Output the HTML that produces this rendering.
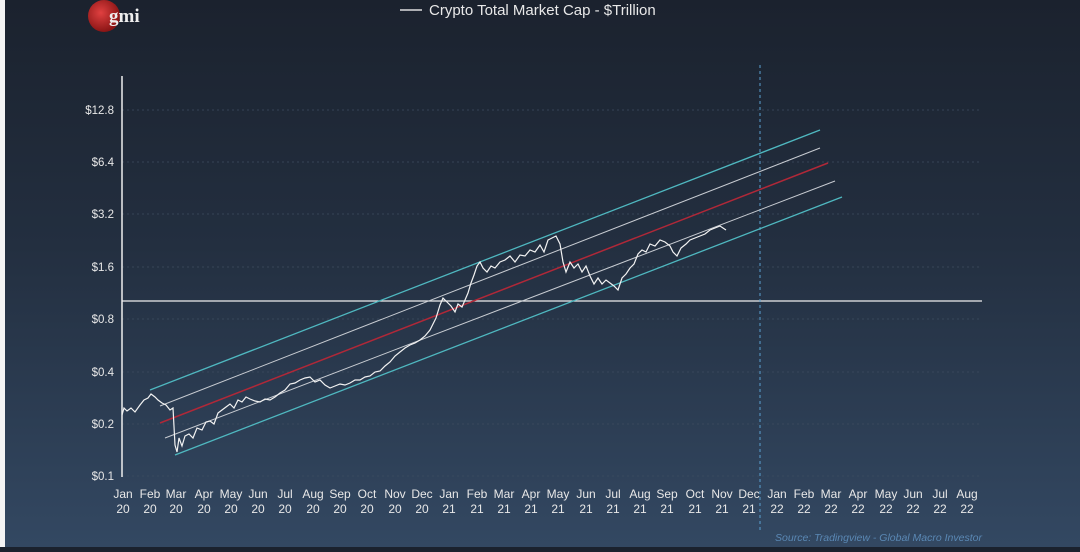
<!DOCTYPE html>
<html><head><meta charset="utf-8"><style>
html,body{margin:0;padding:0;}
body{width:1080px;height:547px;overflow:hidden;background:linear-gradient(180deg,#1b222e 0%,#232f40 45%,#334862 100%);font-family:"Liberation Sans",sans-serif;}
</style></head><body>
<svg width="1080" height="547" viewBox="0 0 1080 547" xmlns="http://www.w3.org/2000/svg">
<defs><radialGradient id="g" cx="40%" cy="40%" r="60%"><stop offset="0" stop-color="#e04040"/><stop offset="1" stop-color="#8a1515"/></radialGradient></defs>
<rect x="0" y="0" width="5" height="547" fill="#f4f4f4"/>
<circle cx="104" cy="16" r="16" fill="url(#g)"/>
<text x="109" y="22" font-family="Liberation Serif,serif" font-size="19" font-weight="bold" fill="#eee">gmi</text>
<line x1="400" y1="10" x2="422" y2="10" stroke="#ddd" stroke-width="1.5"/>
<text x="429" y="15" font-size="15" fill="#e8e8e8">Crypto Total Market Cap - $Trillion</text>
<g stroke="#3e4c60" stroke-dasharray="2,3" stroke-width="0.7">
<line x1="122" y1="110" x2="982" y2="110"/><line x1="122" y1="162" x2="982" y2="162"/><line x1="122" y1="214" x2="982" y2="214"/><line x1="122" y1="267" x2="982" y2="267"/><line x1="122" y1="319" x2="982" y2="319"/><line x1="122" y1="372" x2="982" y2="372"/><line x1="122" y1="424" x2="982" y2="424"/><line x1="122" y1="476" x2="982" y2="476"/>
</g>
<line x1="122" y1="76" x2="122" y2="477" stroke="#eee" stroke-width="1.5"/>
<g font-size="11.5" fill="#e8e8e8" text-anchor="end">
<text x="114" y="114">$12.8</text><text x="114" y="166">$6.4</text><text x="114" y="218">$3.2</text><text x="114" y="271">$1.6</text><text x="114" y="323">$0.8</text><text x="114" y="376">$0.4</text><text x="114" y="428">$0.2</text><text x="114" y="480">$0.1</text>
</g>
<line x1="122" y1="301" x2="982" y2="301" stroke="#eee" stroke-width="1.3"/>
<line x1="760" y1="65" x2="760" y2="532" stroke="#5aa0d0" stroke-width="1" stroke-dasharray="3,3"/>
<line x1="150" y1="390" x2="820" y2="130" stroke="#4fb8c0" stroke-width="1.3"/>
<line x1="160" y1="406" x2="820" y2="148" stroke="#c8ccd2" stroke-width="1"/>
<line x1="160" y1="423" x2="828" y2="163" stroke="#b02838" stroke-width="1.5"/>
<line x1="165" y1="438" x2="835" y2="181" stroke="#c8ccd2" stroke-width="1"/>
<line x1="175" y1="455" x2="842" y2="197" stroke="#4fb8c0" stroke-width="1.3"/>
<polyline fill="none" stroke="#f2f2f2" stroke-width="1.2" points="122,415 124,408 127,411 131,408 135,412 140,405 144,400 148,398 151,394 155,397 158,400 162,403 166,405 170,410 173,408 175,445 177,452 179,438 182,446 185,436 189,434 193,438 197,428 202,430 206,422 210,421 214,424 218,413 222,410 226,407 230,404 234,408 238,400 242,402 246,397 250,399 255,401 260,402 265,399 270,400 275,397 280,393 285,390 290,384 295,383 300,380 305,378 310,377 315,382 320,380 325,385 330,388 335,386 340,384 345,385 350,383 355,380 360,380 365,377 370,376 375,372 380,371 385,366 390,362 395,356 400,352 405,348 410,345 415,343 420,340 425,336 430,330 433,324 436,318 440,305 443,298 447,302 451,306 455,312 458,304 462,307 465,300 468,293 471,283 474,275 477,266 480,262 483,268 487,272 491,266 495,268 500,262 505,260 510,256 515,262 520,255 525,256 530,250 535,252 540,245 544,252 548,240 552,238 556,236 560,244 563,262 566,272 570,262 574,268 578,264 582,272 586,266 590,276 594,284 598,278 602,284 606,280 610,283 614,286 618,290 622,278 626,274 630,268 634,264 638,254 642,250 646,252 650,244 655,246 660,240 665,242 670,246 673,252 677,256 681,248 686,244 690,240 695,238 700,236 705,234 710,230 715,228 720,226 726,230"/>
<g font-size="12" fill="#e8e8e8" text-anchor="middle">
<text x="123" y="498">Jan</text><text x="123" y="513">20</text>
<text x="150" y="498">Feb</text><text x="150" y="513">20</text>
<text x="176" y="498">Mar</text><text x="176" y="513">20</text>
<text x="204" y="498">Apr</text><text x="204" y="513">20</text>
<text x="231" y="498">May</text><text x="231" y="513">20</text>
<text x="258" y="498">Jun</text><text x="258" y="513">20</text>
<text x="285" y="498">Jul</text><text x="285" y="513">20</text>
<text x="313" y="498">Aug</text><text x="313" y="513">20</text>
<text x="340" y="498">Sep</text><text x="340" y="513">20</text>
<text x="367" y="498">Oct</text><text x="367" y="513">20</text>
<text x="395" y="498">Nov</text><text x="395" y="513">20</text>
<text x="422" y="498">Dec</text><text x="422" y="513">20</text>
<text x="449" y="498">Jan</text><text x="449" y="513">21</text>
<text x="477" y="498">Feb</text><text x="477" y="513">21</text>
<text x="504" y="498">Mar</text><text x="504" y="513">21</text>
<text x="531" y="498">Apr</text><text x="531" y="513">21</text>
<text x="558" y="498">May</text><text x="558" y="513">21</text>
<text x="586" y="498">Jun</text><text x="586" y="513">21</text>
<text x="613" y="498">Jul</text><text x="613" y="513">21</text>
<text x="640" y="498">Aug</text><text x="640" y="513">21</text>
<text x="667" y="498">Sep</text><text x="667" y="513">21</text>
<text x="695" y="498">Oct</text><text x="695" y="513">21</text>
<text x="722" y="498">Nov</text><text x="722" y="513">21</text>
<text x="749" y="498">Dec</text><text x="749" y="513">21</text>
<text x="777" y="498">Jan</text><text x="777" y="513">22</text>
<text x="804" y="498">Feb</text><text x="804" y="513">22</text>
<text x="831" y="498">Mar</text><text x="831" y="513">22</text>
<text x="858" y="498">Apr</text><text x="858" y="513">22</text>
<text x="886" y="498">May</text><text x="886" y="513">22</text>
<text x="913" y="498">Jun</text><text x="913" y="513">22</text>
<text x="940" y="498">Jul</text><text x="940" y="513">22</text>
<text x="967" y="498">Aug</text><text x="967" y="513">22</text>
</g>
<text x="982" y="541" font-size="10.5" font-style="italic" fill="#5a88b4" text-anchor="end">Source: Tradingview - Global Macro Investor</text>
</svg>
</body></html>
